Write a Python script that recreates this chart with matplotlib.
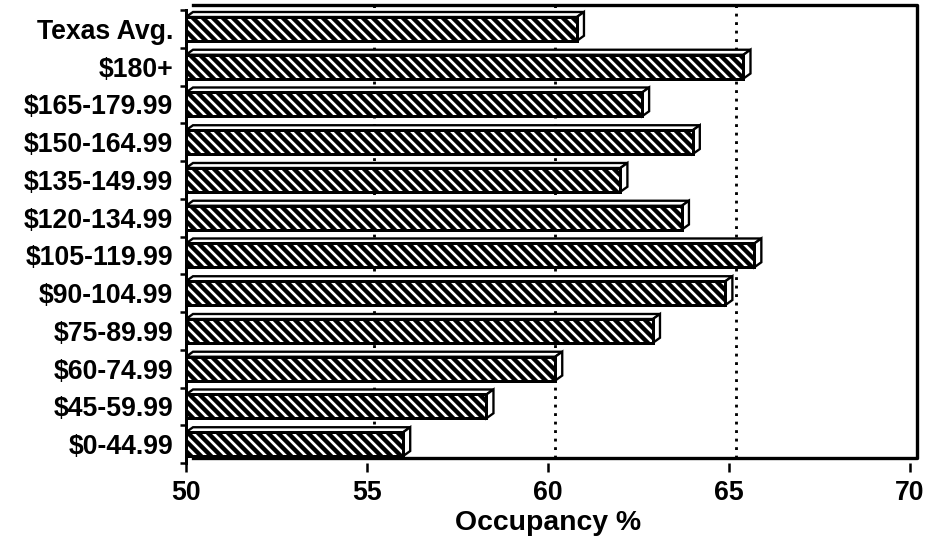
import matplotlib
matplotlib.use("Agg")
import matplotlib.pyplot as plt
import numpy as np
from matplotlib.patches import Polygon
from matplotlib.transforms import ScaledTranslation

# data, bottom to top
categories = ["$0-44.99", "$45-59.99", "$60-74.99", "$75-89.99", "$90-104.99",
              "$105-119.99", "$120-134.99", "$135-149.99", "$150-164.99",
              "$165-179.99", "$180+", "Texas Avg."]
occupancy = [56.0, 58.3, 60.2, 62.9, 64.9, 65.7, 63.7, 62.0, 64.0, 62.6, 65.4, 60.8]
x_ticks = [50, 55, 60, 65, 70]

plt.rcParams["font.family"] = ["Liberation Sans", "DejaVu Sans"]
plt.rcParams["font.weight"] = "bold"
plt.rcParams["axes.labelweight"] = "bold"
plt.rcParams["hatch.linewidth"] = 1.6

DPI = 120
fig = plt.figure(figsize=(933 / DPI, 548 / DPI), dpi=DPI)
# front plane of the pseudo-3D chart, in pixels
left, right, top, bottom = 186, 910, 10, 463
ax = fig.add_axes([left / 933, 1 - bottom / 548, (right - left) / 933, (bottom - top) / 548])

xmin, xmax = x_ticks[0], x_ticks[-1]
n = len(categories)
ax.set_xlim(xmin, xmax)
ax.set_ylim(-0.5, n - 0.5)

# depth of the 3D effect in pixels -> data units
depth_x, depth_y = 7, 5
dx = depth_x * (xmax - xmin) / (right - left)
dy = depth_y * n / (bottom - top)
off = ScaledTranslation(depth_x / DPI, depth_y / DPI, fig.dpi_scale_trans)

# back wall: dotted grid + frame
for v in x_ticks[1:-1]:
    ax.plot([v, v], [0, 1], transform=ax.get_xaxis_transform() + off,
            color="black", lw=1.7, ls=(0, (1, 2.0)), zorder=1, clip_on=False)
ax.plot([0, 1, 1, 0], [1, 1, 0, 0], transform=ax.transAxes + off,
        color="black", lw=2, zorder=1, clip_on=False, solid_joinstyle="round")

y = np.arange(n)
h = 0.63
vals = np.array(occupancy)
# front face: black with white diagonal stripes, then black outline
ax.barh(y, vals - xmin, left=xmin, height=h, color="black", linewidth=0, zorder=3)
ax.barh(y, vals - xmin, left=xmin, height=h, color="none", edgecolor="white",
        hatch="\\\\\\\\", linewidth=0, zorder=3.1)
ax.barh(y, vals - xmin, left=xmin, height=h, color="none", edgecolor="black",
        linewidth=1.8, zorder=3.2)
for yi, v in zip(y, vals):
    yb, yt = yi - h / 2, yi + h / 2
    ax.add_patch(Polygon([(xmin, yt), (xmin + dx, yt + dy), (v + dx, yt + dy), (v, yt)],
                         closed=True, facecolor="white", edgecolor="black", lw=1.4,
                         zorder=2.5, clip_on=False))
    ax.add_patch(Polygon([(v, yb), (v + dx, yb + dy), (v + dx, yt + dy), (v, yt)],
                         closed=True, facecolor="white", edgecolor="black", lw=1.4,
                         zorder=2.5, clip_on=False))

for s in ["top", "right", "bottom"]:
    ax.spines[s].set_visible(False)
ax.spines["left"].set_linewidth(1.8)

ax.set_xticks(x_ticks)
ax.tick_params(axis="x", direction="out", length=5.4, width=1.5, pad=4.5, labelsize=16)
ax.set_yticks(y, categories)
ax.tick_params(axis="y", which="major", length=0, pad=7.8, labelsize=16)
ax.set_yticks(np.arange(n + 1) - 0.5, minor=True)
ax.tick_params(axis="y", which="minor", direction="out", length=3.6, width=1.5)

ax.set_xlabel("Occupancy %", fontsize=17, labelpad=3)

fig.savefig("out.png", dpi=DPI)
